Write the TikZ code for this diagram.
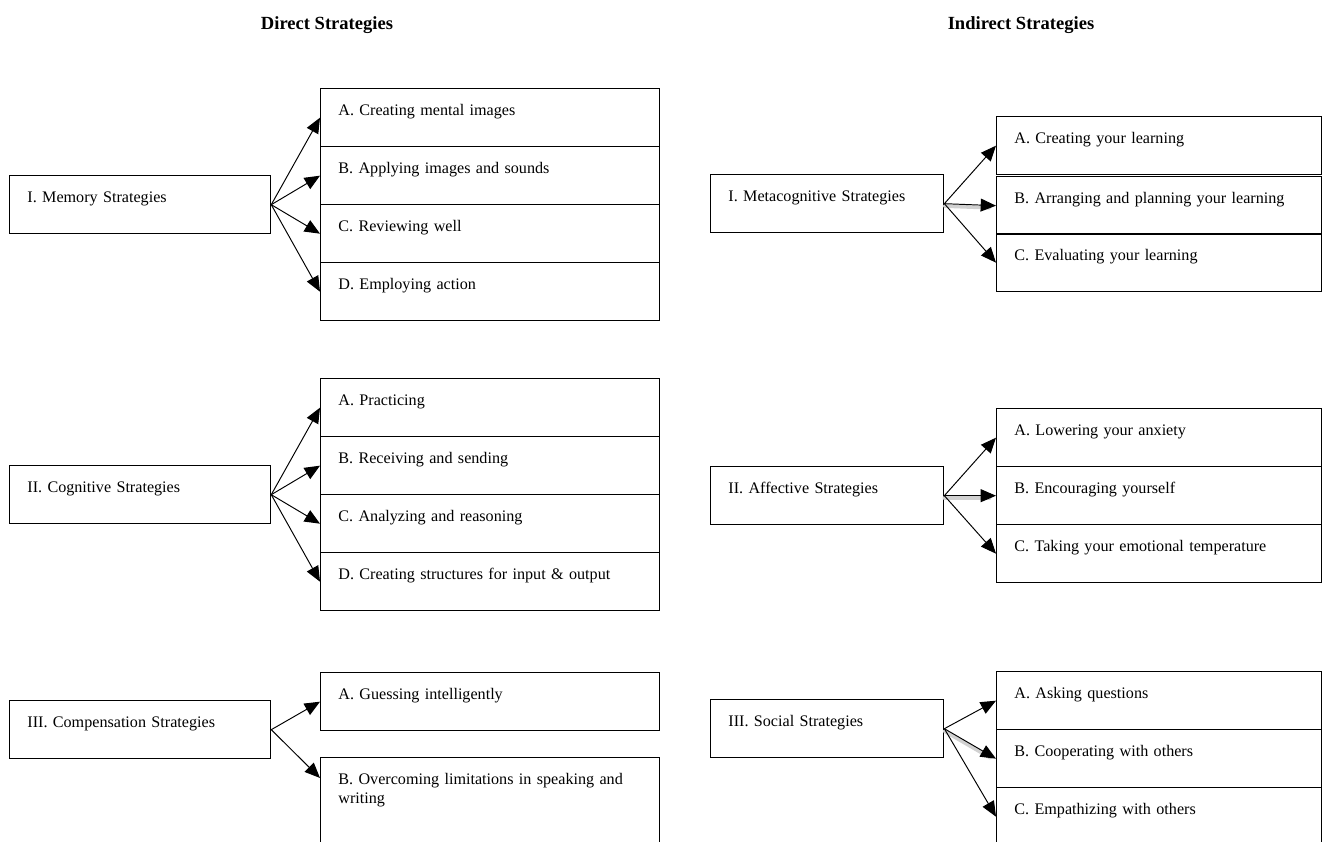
\documentclass[tikz,border=0pt]{standalone}
\usepackage{fontspec}
\setmainfont{Liberation Serif}
\usetikzlibrary{arrows.meta,positioning}

\tikzset{
    box/.style={draw, rectangle, anchor=north west, line width=0.8pt, align=left,
        inner xsep=11pt, inner ysep=0pt, text height=16.5pt, text depth=19.5pt,
        font=\fontsize{10}{12}\selectfont},
    lmain/.style={box, text width=139.8pt},
    rmain/.style={box, text width=122.5pt},
    lsub/.style={box, text width=188.2pt},
    rsub/.style={box, text width=179.5pt},
    arr/.style={-{Triangle[length=9.5pt,width=8pt]}, line width=0.6pt},
    arrshadow/.style={draw=black!18, line width=2.2pt, shorten >=4pt, line cap=round},
    head/.style={font=\fontsize{11.5}{13}\selectfont\bfseries}
}

\begin{document}
\begin{tikzpicture}[x=0.62pt, y=-0.62pt]
        \useasboundingbox (0,0) rectangle (1323,841);
        \clip (0,0) rectangle (1323,841);

        % Headings
        \node[head] (direct) at (327,25) {Direct Strategies};
        \node[head] (indirect) at (1021,25) {Indirect Strategies};

        % Direct strategies: memory
        \node[lmain] (mem) at (9,175) {I. Memory Strategies};
        \node[lsub] (memA) at (320,88) {A. Creating mental images};
        \node[lsub] (memB) at (320,146) {B. Applying images and sounds};
        \node[lsub] (memC) at (320,204) {C. Reviewing well};
        \node[lsub] (memD) at (320,262) {D. Employing action};
        \draw[arr] (mem.east) -- (memA.west);
        \draw[arr] (mem.east) -- (memB.west);
        \draw[arr] (mem.east) -- (memC.west);
        \draw[arr] (mem.east) -- (memD.west);

        % Direct strategies: cognitive
        \node[lmain] (cog) at (9,465) {II. Cognitive Strategies};
        \node[lsub] (cogA) at (320,378) {A. Practicing};
        \node[lsub] (cogB) at (320,436) {B. Receiving and sending};
        \node[lsub] (cogC) at (320,494) {C. Analyzing and reasoning};
        \node[lsub] (cogD) at (320,552) {D. Creating structures for input \& output};
        \draw[arr] (cog.east) -- (cogA.west);
        \draw[arr] (cog.east) -- (cogB.west);
        \draw[arr] (cog.east) -- (cogC.west);
        \draw[arr] (cog.east) -- (cogD.west);

        % Direct strategies: compensation
        \node[lmain] (comp) at (9,700) {III. Compensation Strategies};
        \node[lsub] (compA) at (320,672) {A. Guessing intelligently};
        \node[lsub, text depth=60pt] (compB) at (320,757) {B. Overcoming limitations in speaking and\\writing};
        \coordinate (compBtip) at ([yshift=-13pt]compB.north west);
        \draw[arr] (comp.east) -- (compA.west);
        \draw[arr] (comp.east) -- (compBtip);

        % Indirect strategies: metacognitive
        \node[rmain] (meta) at (710,174) {I. Metacognitive Strategies};
        \node[rsub] (metaA) at (996,116) {A. Creating your learning};
        \node[rsub] (metaB) at (996,176) {B. Arranging and planning your learning};
        \node[rsub] (metaC) at (996,233) {C. Evaluating your learning};
        \draw[arr] (meta.east) -- (metaA.west);
        \draw[arrshadow] ([yshift=-1.5pt]meta.east) -- ([yshift=-1.5pt]metaB.west);
        \draw[arr] (meta.east) -- (metaB.west);
        \draw[arr] (meta.east) -- (metaC.west);

        % Indirect strategies: affective
        \node[rmain] (aff) at (710,466) {II. Affective Strategies};
        \node[rsub] (affA) at (996,408) {A. Lowering your anxiety};
        \node[rsub] (affB) at (996,466) {B. Encouraging yourself};
        \node[rsub] (affC) at (996,524) {C. Taking your emotional temperature};
        \draw[arr] (aff.east) -- (affA.west);
        \draw[arrshadow] ([yshift=-1.5pt]aff.east) -- ([yshift=-1.5pt]affB.west);
        \draw[arr] (aff.east) -- (affB.west);
        \draw[arr] (aff.east) -- (affC.west);

        % Indirect strategies: social
        \node[rmain] (soc) at (710,699) {III. Social Strategies};
        \node[rsub] (socA) at (996,671) {A. Asking questions};
        \node[rsub] (socB) at (996,729) {B. Cooperating with others};
        \node[rsub] (socC) at (996,787) {C. Empathizing with others};
        \draw[arr] (soc.east) -- (socA.west);
        \draw[arrshadow] ([yshift=-1.5pt]soc.east) -- ([yshift=-1.5pt]socB.west);
        \draw[arr] (soc.east) -- (socB.west);
        \draw[arr] (soc.east) -- (socC.west);
    \end{tikzpicture}
\end{document}
